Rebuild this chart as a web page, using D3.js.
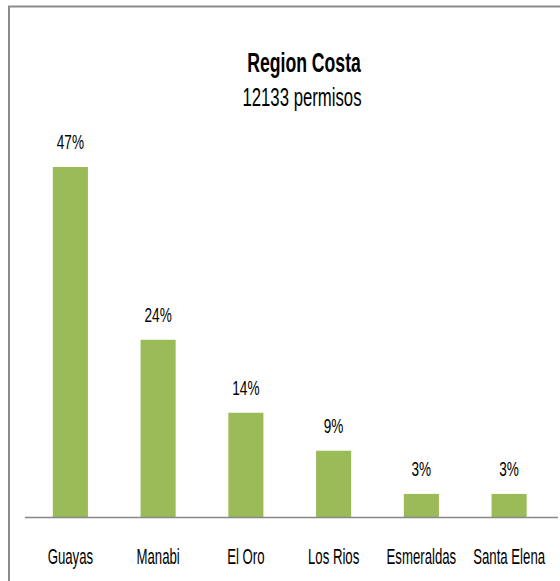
<!DOCTYPE html>
<html>
<head>
<meta charset="utf-8">
<script src="https://cdn.jsdelivr.net/npm/d3@7"></script>
<style>
  body { margin: 0; background: #fff; }
  text { font-family: "Liberation Sans", Arial, sans-serif; fill: #000; }
</style>
</head>
<body>
<div id="chart"></div>
<script>
// datos del gráfico
const provincias = ['Guayas', 'Manabi', 'El Oro', 'Los Rios', 'Esmeraldas', 'Santa Elena'];
const porcentajes = [47, 23.8, 14, 8.9, 3.1, 3.1];
const etiquetas = ['47%', '24%', '14%', '9%', '3%', '3%'];
const titulo = 'Region Costa';
const subtitulo = '12133 permisos';

const width = 560, height = 581;
const svg = d3.select('#chart').append('svg')
    .attr('width', width)
    .attr('height', height);

// texto estrecho tipo Calibri: se escala solo en horizontal
const estrecho = (px, py, f) => `translate(${px},${py}) scale(${f},1)`;

// marco gris (solo arriba e izquierda visibles)
svg.append('rect')
    .attr('x', 9).attr('y', 6.5)
    .attr('width', 600).attr('height', 600)
    .attr('fill', 'none')
    .attr('stroke', '#8c8c8c')
    .attr('stroke-width', 2);

const baseY = 517;
const x = d3.scaleBand()
    .domain(provincias)
    .range([26.5, 553])
    .paddingInner(0.6)
    .paddingOuter(0.3);

const y = d3.scaleLinear()
    .domain([0, 47])
    .range([baseY, 167]);

// barras
svg.selectAll('rect.bar')
    .data(provincias)
    .enter()
    .append('rect')
    .attr('class', 'bar')
    .attr('x', d => x(d))
    .attr('y', (d, i) => y(porcentajes[i]))
    .attr('width', x.bandwidth())
    .attr('height', (d, i) => baseY - y(porcentajes[i]))
    .attr('fill', '#9bbb59');

// eje x
svg.append('line')
    .attr('x1', 25).attr('x2', 558)
    .attr('y1', baseY + 0.5).attr('y2', baseY + 0.5)
    .attr('stroke', '#888')
    .attr('stroke-width', 1.5);

// etiquetas de datos
svg.selectAll('text.valor')
    .data(provincias)
    .enter()
    .append('text')
    .attr('class', 'valor')
    .attr('transform', (d, i) => estrecho(x(d) + x.bandwidth() / 2, y(porcentajes[i]) - 18, 0.68))
    .attr('text-anchor', 'middle')
    .attr('font-size', '20px')
    .text((d, i) => etiquetas[i]);

// nombres de provincias
svg.selectAll('text.cat')
    .data(provincias)
    .enter()
    .append('text')
    .attr('class', 'cat')
    .attr('transform', d => estrecho(x(d) + x.bandwidth() / 2, 564, 0.6))
    .attr('text-anchor', 'middle')
    .attr('font-size', '22px')
    .text(d => d);

// títulos
svg.append('text')
    .attr('transform', estrecho(304, 72, 0.63))
    .attr('text-anchor', 'middle')
    .attr('font-size', '28px')
    .attr('font-weight', 'bold')
    .text(titulo);

svg.append('text')
    .attr('transform', estrecho(302, 106, 0.67))
    .attr('text-anchor', 'middle')
    .attr('font-size', '25px')
    .text(subtitulo);
</script>
</body>
</html>
